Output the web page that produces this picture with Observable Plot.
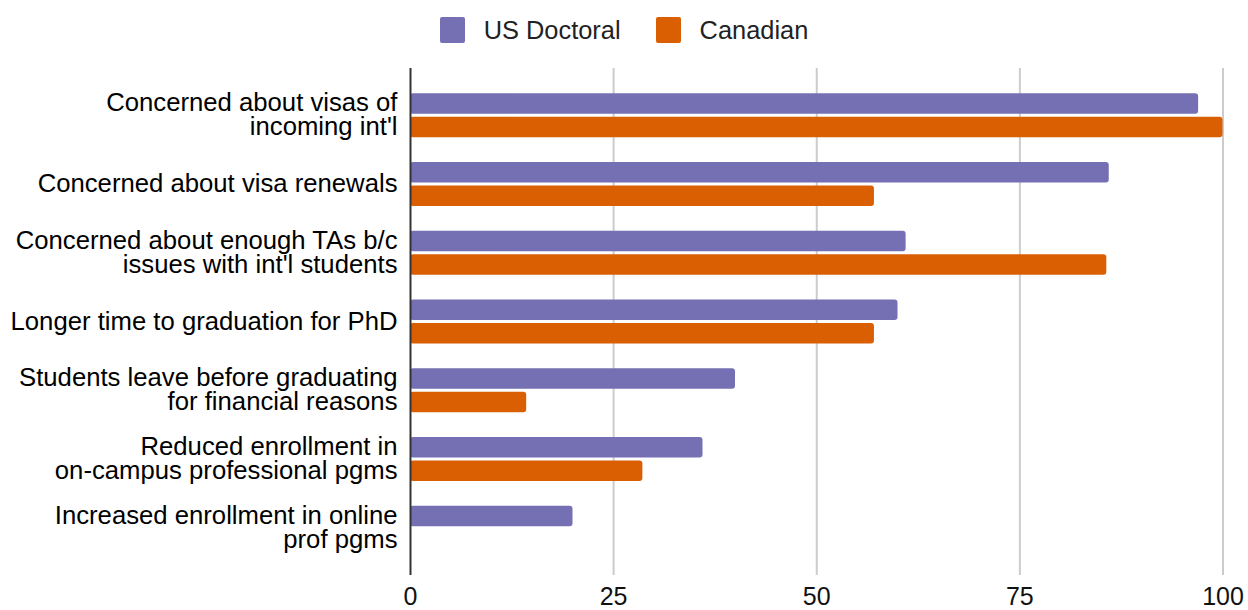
<!DOCTYPE html>
<html>
<head>
<meta charset="utf-8">
<script src="https://cdn.jsdelivr.net/npm/d3@7"></script>
<script src="https://cdn.jsdelivr.net/npm/@observablehq/plot@0.6"></script>
<style>
  html, body { margin: 0; padding: 0; background: #fff; }
  body { width: 1248px; height: 610px; overflow: hidden; font-family: "Liberation Sans", Arial, sans-serif; }
  #legend { height: 50px; box-sizing: border-box; padding-top: 10px; display: flex; justify-content: center; align-items: center; gap: 35px; font-size: 25.4px; color: #222; }
  .item { display: flex; align-items: center; }
  .sw { width: 25px; height: 26px; border-radius: 2px; margin-right: 19px; }
  #chart svg { display: block; }
</style>
</head>
<body>
<div id="legend"></div>
<div id="chart"></div>
<script>
const categories = [
  "Concerned about visas of\nincoming int'l",
  "Concerned about visa renewals",
  "Concerned about enough TAs b/c\nissues with int'l students",
  "Longer time to graduation for PhD",
  "Students leave before graduating\nfor financial reasons",
  "Reduced enrollment in\non-campus professional pgms",
  "Increased enrollment in online\nprof pgms"
];
const series = ["US Doctoral", "Canadian"];
const usDoctoral = [97, 86, 61, 60, 40, 36, 20];
const canadian = [100, 57.1, 85.7, 57.1, 14.3, 28.6, 0];
const seriesColors = ["#7570b3", "#d95f02"];
const xTicks = [0, 25, 50, 75, 100];

const usRows = categories.map((c, i) => ({category: c, series: series[0], value: usDoctoral[i]}));
const caRows = categories.map((c, i) => ({category: c, series: series[1], value: canadian[i]}));

// Legend
const legend = document.getElementById("legend");
series.forEach((s, i) => {
  const item = document.createElement("div");
  item.className = "item";
  const sw = document.createElement("div");
  sw.className = "sw";
  sw.style.background = seriesColors[i];
  const label = document.createElement("span");
  label.textContent = s;
  item.appendChild(sw);
  item.appendChild(label);
  legend.appendChild(item);
});

const chart = Plot.plot({
  width: 1248,
  height: 560,
  marginLeft: 410,
  marginRight: 25.5,
  marginTop: 18,
  marginBottom: 35,
  style: {fontFamily: "'Liberation Sans', Arial, sans-serif", fontSize: "25px", color: "#111", background: "#fff"},
  x: {domain: [0, 100], label: null},
  y: {domain: categories, paddingInner: 0.36, paddingOuter: 0.3675, round: false, label: null},
  marks: [
    Plot.ruleX(xTicks.slice(1), {stroke: "#ccc", strokeWidth: 2}),
    Plot.barX(usRows, {x: "value", y: "category", fill: seriesColors[0], insetBottom: 23.5, rx: 3}),
    Plot.barX(caRows, {x: "value", y: "category", fill: seriesColors[1], insetTop: 23.5, rx: 3}),
    Plot.ruleX([0], {stroke: "#333", strokeWidth: 2}),
    Plot.axisX({ticks: xTicks, tickSize: 0, tickPadding: 12, label: null, fontSize: 25}),
    Plot.axisY({tickSize: 0, tickPadding: 13, label: null, fontSize: 25.7, lineHeight: 0.934, fill: "#000"})
  ]
});
document.getElementById("chart").appendChild(chart);
</script>
</body>
</html>
